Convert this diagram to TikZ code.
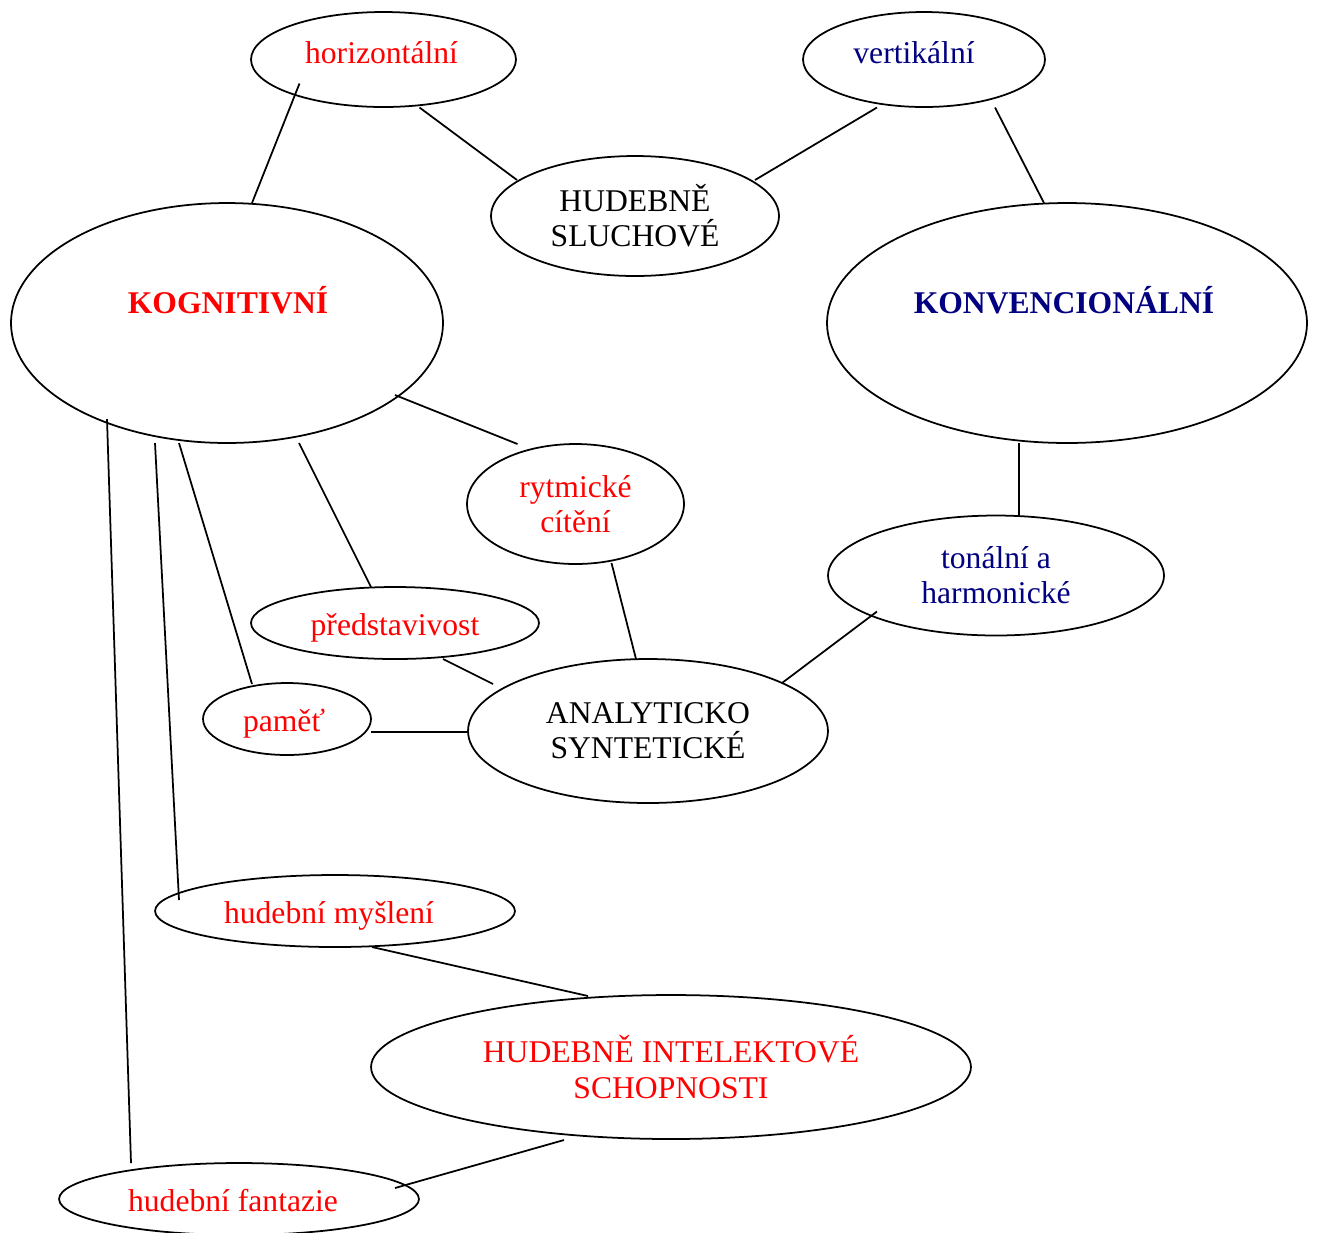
\documentclass[tikz,border=0pt]{standalone}
\usepackage{fontspec}
\setmainfont{Liberation Serif}
\usetikzlibrary{shapes.geometric,calc}
\definecolor{navy}{RGB}{0,0,128}
\tikzset{
  oval/.style={ellipse, draw, line width=1pt, inner sep=0pt, align=center,
    font=\fontsize{18}{20}\selectfont},
  tallbox/.style={text height=12pt, text depth=7pt},
  flatbox/.style={text height=19pt, text depth=5pt},
  link/.style={line width=1pt},
}
\begin{document}
\begin{tikzpicture}[x=0.02cm, y=-0.02cm]
  \useasboundingbox (0,0) rectangle (1318,1232);
  % top row
  \node[oval, tallbox, text=red, minimum width=5.3cm, minimum height=1.9cm] (horiz) at (383.5,59.5) {horizontální\hspace*{0.08cm}};
  \node[oval, tallbox, text=navy, minimum width=4.84cm, minimum height=1.9cm] (vert) at (924,59.5) {vertikální\hspace*{0.4cm}};
  \node[oval, minimum width=5.76cm, minimum height=2.4cm] (sluch) at (635,216) {HUDEBNĚ\\SLUCHOVÉ};
  % the two big ones
  \node[oval, minimum width=8.64cm, minimum height=4.8cm] (kog) at (227,323) {};
  \node[anchor=base, text=red, font=\fontsize{18}{20}\selectfont\bfseries] (kogtxt) at (228,313) {KOGNITIVNÍ};
  \node[oval, minimum width=9.6cm, minimum height=4.8cm] (konv) at (1067,323) {};
  \node[anchor=base, text=navy, font=\fontsize{18}{20}\selectfont\bfseries] (konvtxt) at (1064,313) {KONVENCIONÁLNÍ};
  % middle
  \node[oval, text=red, minimum width=4.34cm, minimum height=2.4cm] (rytm) at (575.5,504) {rytmické\\cítění};
  \node[oval, text=navy, minimum width=6.72cm, minimum height=2.4cm] (tonal) at (996,575.5) {tonální a\\harmonické};
  \node[oval, flatbox, text=red, minimum width=5.76cm, minimum height=1.44cm] (predst) at (395,623) {představivost};
  \node[oval, flatbox, text=red, minimum width=3.36cm, minimum height=1.44cm] (pamet) at (287,719) {paměť\hspace*{0.12cm}};
  \node[oval, minimum width=7.2cm, minimum height=2.88cm] (anal) at (648,731) {ANALYTICKO\\SYNTETICKÉ};
  % bottom
  \node[oval, flatbox, text=red, minimum width=7.2cm, minimum height=1.44cm] (mysl) at (335,911) {hudební myšlení\hspace*{0.24cm}};
  \node[oval, text=red, minimum width=12cm, minimum height=2.88cm] (intel) at (671,1067) {HUDEBNĚ INTELEKTOVÉ\\SCHOPNOSTI};
  \node[oval, flatbox, text=red, minimum width=7.2cm, minimum height=1.44cm] (fant) at (239,1199) {hudební fantazie\hspace*{0.24cm}};

  % connectors
  \draw[link] ($(horiz)+(-84,24)$) -- ($(kog)+(25,-120)$);
  \draw[link] ($(horiz)+(36,48)$) -- ($(sluch)+(-118,-36)$);
  \draw[link] ($(vert)+(-47,48)$) -- ($(sluch)+(120,-36)$);
  \draw[link] ($(vert)+(71,48)$) -- ($(konv)+(-23,-120)$);
  \draw[link] ($(konv)+(-48,120)$) -- ($(tonal)+(23,-60)$);
  \draw[link] ($(kog)+(168,72)$) -- ($(rytm)+(-58,-60)$);
  \draw[link] ($(kog)+(72,120)$) -- ($(predst)+(-24,-36)$);
  \draw[link] ($(kog)+(-48,120)$) -- ($(pamet)+(-35,-35)$);
  \draw[link] ($(kog)+(-72,120)$) -- ($(mysl)+(-156,-11)$);
  \draw[link] ($(kog)+(-120,96)$) -- ($(fant)+(-108,-36)$);
  \draw[link] ($(rytm)+(36,59)$) -- ($(anal)+(-12,-72)$);
  \draw[link] ($(predst)+(48,36)$) -- ($(anal)+(-155,-47)$);
  \draw[link] ($(pamet)+(84,13)$) -- ($(anal)+(-180,1)$);
  \draw[link] ($(tonal)+(-119,36)$) -- ($(anal)+(134,-48)$);
  \draw[link] ($(mysl)+(37,36)$) -- ($(intel)+(-83,-71)$);
  \draw[link] ($(intel)+(-107,73)$) -- ($(fant)+(156,-11)$);
\end{tikzpicture}
\end{document}
